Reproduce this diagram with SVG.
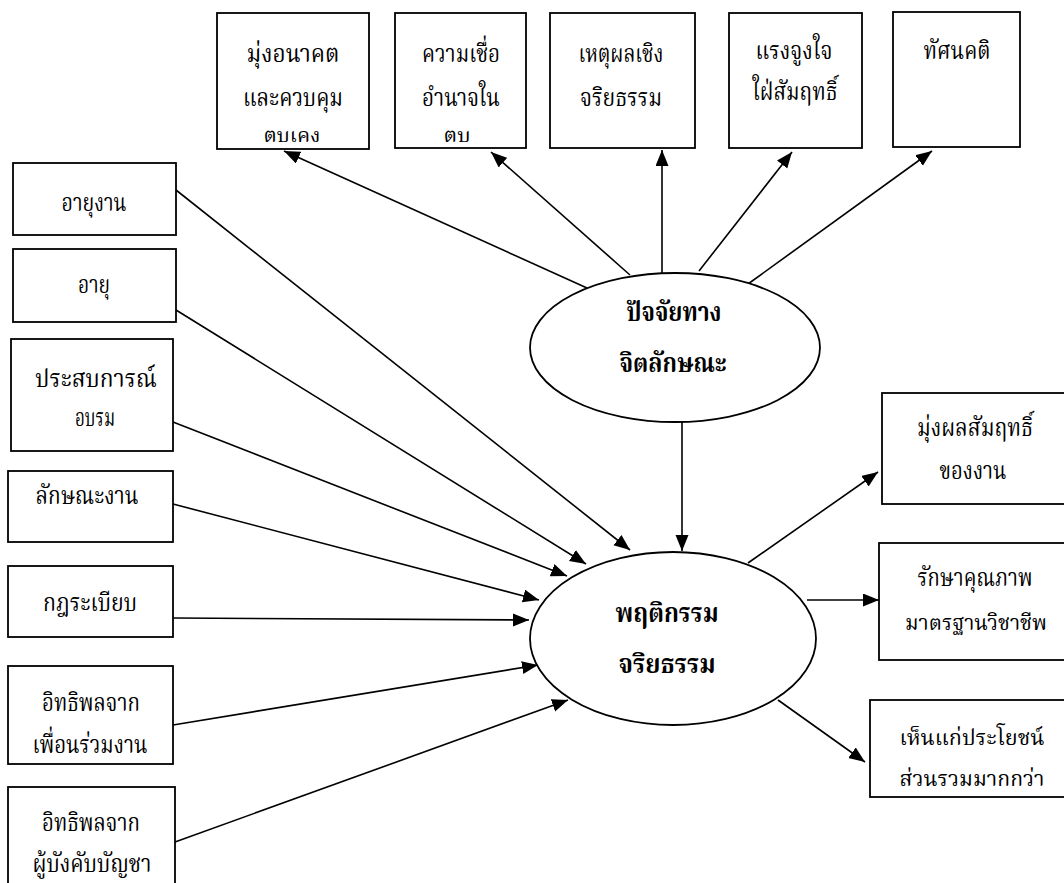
<svg xmlns="http://www.w3.org/2000/svg" width="1064" height="883" viewBox="0 0 1064 883">
<style>
.box{fill:#fff;stroke:#000;stroke-width:1.8}
.ell{fill:#fff;stroke:#000;stroke-width:1.8}
.t{font-family:"Noto Serif Thai","Norasi","Noto Sans Thai","Loma","Garuda","Liberation Serif",serif;font-size:25px;fill:#000;text-anchor:middle}
.s{font-size:19px}
.m{font-size:22px}
.b{font-weight:bold;font-size:26px}
.c{stroke:#000;stroke-width:1.6;fill:none;marker-end:url(#ah)}
</style>
<defs>
<marker id="ah" markerUnits="userSpaceOnUse" markerWidth="17" markerHeight="14" refX="16" refY="6.5" orient="auto">
<path d="M0,0 L16,6.5 L0,13 z" fill="#000"/>
</marker>
</defs>
<rect width="1064" height="883" fill="#fff"/>
<g id="connectors">
<line class="c" x1="587" y1="288" x2="284" y2="151"/>
<line class="c" x1="630" y1="275" x2="491" y2="152"/>
<line class="c" x1="662" y1="273" x2="662" y2="150"/>
<line class="c" x1="699" y1="271" x2="792" y2="152"/>
<line class="c" x1="748" y1="284" x2="932" y2="151"/>
<line class="c" x1="682" y1="422" x2="682" y2="551"/>
<line class="c" x1="176" y1="190" x2="630" y2="550"/>
<line class="c" x1="176" y1="310" x2="586" y2="564"/>
<line class="c" x1="173" y1="422" x2="567" y2="576"/>
<line class="c" x1="173" y1="504" x2="539" y2="600"/>
<line class="c" x1="173" y1="618" x2="529" y2="620"/>
<line class="c" x1="173" y1="725" x2="538" y2="665"/>
<line class="c" x1="175" y1="842" x2="568" y2="700"/>
<line class="c" x1="748" y1="563" x2="878" y2="472"/>
<line class="c" x1="807" y1="600" x2="879" y2="600"/>
<line class="c" x1="778" y1="700" x2="865" y2="762"/>
</g>
<g id="n-top1"><rect class="box" x="217" y="13" width="152" height="136"/>
<text class="t" x="293" y="62" textLength="93" lengthAdjust="spacingAndGlyphs">มุ่งอนาคต</text>
<text class="t" x="293" y="106" textLength="100" lengthAdjust="spacingAndGlyphs">และควบคุม</text>
<text class="t s" x="292" y="142" textLength="57" lengthAdjust="spacingAndGlyphs">ตบเคง</text></g>
<g id="n-top2"><rect class="box" x="395" y="13" width="131" height="135"/>
<text class="t" x="461" y="62" textLength="78" lengthAdjust="spacingAndGlyphs">ความเชื่อ</text>
<text class="t" x="461" y="106" textLength="78" lengthAdjust="spacingAndGlyphs">อำนาจใน</text>
<text class="t s" x="457" y="142" textLength="27" lengthAdjust="spacingAndGlyphs">ตบ</text></g>
<g id="n-top3"><rect class="box" x="550" y="13" width="145" height="135"/>
<text class="t" x="621" y="62" textLength="85" lengthAdjust="spacingAndGlyphs">เหตุผลเชิง</text>
<text class="t" x="621" y="106" textLength="82" lengthAdjust="spacingAndGlyphs">จริยธรรม</text></g>
<g id="n-top4"><rect class="box" x="729" y="13" width="133" height="135"/>
<text class="t" x="794" y="59" textLength="77" lengthAdjust="spacingAndGlyphs">แรงจูงใจ</text>
<text class="t" x="795" y="100" textLength="85" lengthAdjust="spacingAndGlyphs">ใฝ่สัมฤทธิ์</text></g>
<g id="n-top5"><rect class="box" x="893" y="12" width="127" height="135"/>
<text class="t" x="957" y="59" textLength="67" lengthAdjust="spacingAndGlyphs">ทัศนคติ</text></g>
<g id="n-psych"><ellipse class="ell" cx="675" cy="347.5" rx="145" ry="74.5"/>
<text class="t b" x="674" y="321" textLength="95" lengthAdjust="spacingAndGlyphs">ปัจจัยทาง</text>
<text class="t b" x="673" y="372" textLength="107" lengthAdjust="spacingAndGlyphs">จิตลักษณะ</text></g>
<g id="n-behav"><ellipse class="ell" cx="673" cy="638.5" rx="143" ry="86.5"/>
<text class="t b" x="667" y="622" textLength="103" lengthAdjust="spacingAndGlyphs">พฤติกรรม</text>
<text class="t b" x="667" y="673" textLength="97" lengthAdjust="spacingAndGlyphs">จริยธรรม</text></g>
<g id="n-l1"><rect class="box" x="13" y="163" width="163" height="72"/>
<text class="t" x="94" y="211" textLength="65" lengthAdjust="spacingAndGlyphs">อายุงาน</text></g>
<g id="n-l2"><rect class="box" x="13" y="249" width="163" height="73"/>
<text class="t" x="94" y="293" textLength="32" lengthAdjust="spacingAndGlyphs">อายุ</text></g>
<g id="n-l3"><rect class="box" x="11" y="339" width="162" height="112"/>
<text class="t" x="96" y="387" textLength="122" lengthAdjust="spacingAndGlyphs">ประสบการณ์</text>
<text class="t" x="95" y="426" textLength="40" lengthAdjust="spacingAndGlyphs">อบรม</text></g>
<g id="n-l4"><rect class="box" x="8" y="471" width="165" height="71"/>
<text class="t" x="87" y="504" textLength="103" lengthAdjust="spacingAndGlyphs">ลักษณะงาน</text></g>
<g id="n-l5"><rect class="box" x="8" y="566" width="165" height="71"/>
<text class="t" x="90" y="611" textLength="94" lengthAdjust="spacingAndGlyphs">กฎระเบียบ</text></g>
<g id="n-l6"><rect class="box" x="8" y="666" width="165" height="98"/>
<text class="t" x="91" y="711" textLength="98" lengthAdjust="spacingAndGlyphs">อิทธิพลจาก</text>
<text class="t" x="90" y="753" textLength="115" lengthAdjust="spacingAndGlyphs">เพื่อนร่วมงาน</text></g>
<g id="n-l7"><rect class="box" x="8" y="787" width="167" height="110"/>
<text class="t" x="91" y="831" textLength="98" lengthAdjust="spacingAndGlyphs">อิทธิพลจาก</text>
<text class="t" x="92" y="872" textLength="119" lengthAdjust="spacingAndGlyphs">ผู้บังคับบัญชา</text></g>
<g id="n-r1"><rect class="box" x="882" y="393" width="190" height="111"/>
<text class="t" x="975" y="436" textLength="116" lengthAdjust="spacingAndGlyphs">มุ่งผลสัมฤทธิ์</text>
<text class="t" x="973" y="479" textLength="67" lengthAdjust="spacingAndGlyphs">ของงาน</text></g>
<g id="n-r2"><rect class="box" x="879" y="543" width="195" height="117"/>
<text class="t" x="975" y="586" textLength="115" lengthAdjust="spacingAndGlyphs">รักษาคุณภาพ</text>
<text class="t m" x="976" y="630" textLength="142" lengthAdjust="spacingAndGlyphs">มาตรฐานวิชาชีพ</text></g>
<g id="n-r3"><rect class="box" x="870" y="700" width="205" height="97"/>
<text class="t m" x="972" y="745" textLength="145" lengthAdjust="spacingAndGlyphs">เห็นแก่ประโยชน์</text>
<text class="t m" x="972" y="786" textLength="145" lengthAdjust="spacingAndGlyphs">ส่วนรวมมากกว่า</text></g>
</svg>
